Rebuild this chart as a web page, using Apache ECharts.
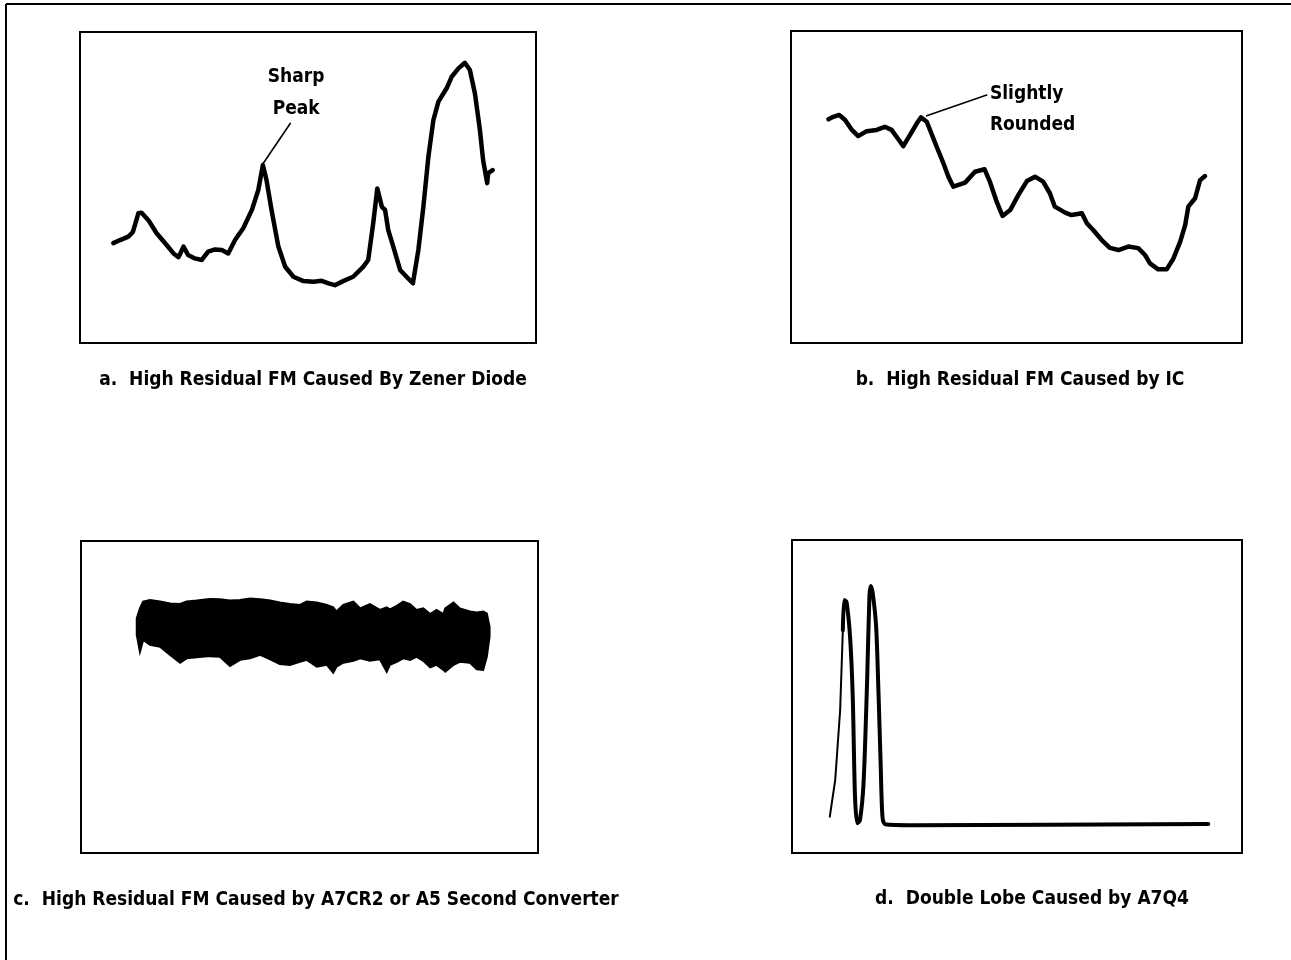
<!DOCTYPE html>
<html><head><meta charset="utf-8">
<script src="https://cdn.jsdelivr.net/npm/echarts@6/dist/echarts.min.js"></script>
<style>html,body{margin:0;padding:0;background:#fff}#chart{width:1291px;height:960px}</style>
</head><body><div id="chart"></div>
<script>
// Panel a: trace (x: 0-100 across screen, y: 0-100 up the screen)
const aX = [7.3,8.8,10.6,11.6,12.8,13.5,15.0,16.8,19.0,20.5,21.6,22.7,23.7,25.2,26.7,28.1,29.6,31.1,32.5,34.0,35.8,37.7,39.1,40.1,40.9,42.0,43.5,45.0,46.8,49.0,51.2,53.0,54.5,55.9,57.7,59.9,62.1,63.2,64.3,65.2,66.2,66.9,67.6,68.7,70.2,71.6,73.0,74.2,75.3,76.4,77.5,78.6,80.4,81.5,83.0,84.4,85.5,86.6,87.7,88.4,89.3,89.5,90.5];
const aY = [32.1,33.1,34.2,35.7,41.7,41.9,39.5,35.3,31.5,28.8,27.6,31.0,28.3,27.2,26.7,29.4,30.1,29.9,28.8,33.1,36.9,42.8,49.2,57.2,52.4,42.8,31.0,24.5,21.3,19.9,19.7,20.0,19.2,18.6,19.9,21.3,24.5,26.7,38.5,49.7,43.8,42.8,36.3,31.0,23.5,21.3,19.2,29.9,43.8,59.9,71.7,77.6,81.9,85.6,88.3,90.1,87.8,80.3,68.5,58.8,51.4,54.6,55.6];
const aNoteLineX = [40.2, 46.1];
const aNoteLineY = [57.8, 70.6];
const aNoteText = 'Sharp\nPeak';
const aNotePos = [47.4, 80.4];

// Panel b
const bX = [8.3,9.4,10.7,12.0,13.5,14.9,16.8,19.0,20.8,22.3,23.8,24.9,26.4,27.9,28.8,30.1,32.3,33.8,34.9,36.0,38.6,40.8,42.9,44.1,45.6,46.9,48.6,50.4,52.3,54.1,55.9,57.4,58.5,60.8,62.2,64.5,65.6,67.0,68.9,70.7,72.6,74.8,77.0,78.5,79.6,81.4,83.3,84.8,86.3,87.4,88.1,89.6,90.7,91.8];
const bY = [71.7,72.5,73.1,71.5,68.3,66.3,67.9,68.3,69.3,68.3,65.3,63.1,66.7,70.4,72.3,70.9,62.9,57.6,53.3,50.1,51.4,54.9,55.7,51.7,45.3,40.7,42.6,47.4,51.9,53.3,51.7,48.0,43.7,41.8,41.0,41.6,38.4,36.2,33.0,30.5,29.8,30.9,30.4,28.2,25.5,23.6,23.6,27.1,32.5,37.8,43.7,46.4,52.2,53.5];
const bNoteLineX = [30.1, 43.4];
const bNoteLineY = [72.8, 79.5];
const bNoteText = 'Slightly\nRounded';
const bNotePos = [44.1, 74.7];

// Panel c: noise band envelope
const cX = [12.2,12.9,13.6,15.1,17.3,19.5,21.7,23.1,25.3,28.2,30.4,32.6,34.8,37.0,39.2,41.4,43.5,45.7,47.9,49.4,51.6,53.8,55.2,55.9,57.4,59.6,61.1,63.2,65.4,66.9,67.6,69.1,70.5,72.0,73.4,74.9,76.4,77.8,79.3,79.7,81.5,82.9,85.1,86.6,88.0,88.8,89.4];
const cTop = [75.2,78.4,80.6,81.1,80.6,80.0,79.8,80.6,80.9,81.4,81.3,80.9,81.1,81.6,81.3,80.9,80.3,79.8,79.5,80.6,80.3,79.5,78.7,77.4,79.5,80.6,78.4,79.8,77.9,78.7,78.1,79.2,80.6,79.8,77.9,78.4,76.6,77.9,76.6,78.4,80.3,78.4,77.4,77.1,77.4,76.8,72.5];
const cBottom = [69.9,64.5,68.3,66.7,66.1,63.5,61.0,62.4,62.7,63.1,62.9,59.9,61.9,62.4,63.5,62.1,60.6,60.3,61.3,61.9,59.7,60.3,57.8,59.7,61.0,61.6,62.4,61.6,62.1,58.1,60.3,61.3,62.4,61.9,62.9,61.6,59.5,60.3,58.7,58.1,60.3,61.3,61.0,58.9,58.7,62.9,69.3];

// Panel d
const dX = [8.4,9.6,10.7,11.3,11.6,12.1,12.9,13.5,14.0,14.5,15.1,15.9,16.7,17.2,17.5,17.9,18.7,19.2,19.7,20.1,20.7,27.0,92.5];
const dY = [11.6,23.3,45.7,71.2,80.8,80.3,69.1,49.9,18.0,9.5,10.5,22.3,55.3,81.9,85.3,83.5,72.3,52.1,28.6,11.6,9.2,8.9,9.3];

const captions = [
  'a.  High Residual FM Caused By Zener Diode',
  'b.  High Residual FM Caused by IC',
  'c.  High Residual FM Caused by A7CR2 or A5 Second Converter',
  'd.  Double Lobe Caused by A7Q4'
];

const FONT = '"DejaVu Sans Condensed", "Liberation Sans Narrow", "DejaVu Sans", sans-serif';
const zip = (xs, ys) => xs.map((x, i) => [x, ys[i]]);

const grids = [
  {left: 80, top: 32, width: 456, height: 311},
  {left: 791, top: 31, width: 451, height: 312},
  {left: 81, top: 541, width: 457, height: 312},
  {left: 792, top: 540, width: 450, height: 313}
].map(g => Object.assign({show: true, borderColor: '#000', borderWidth: 2, backgroundColor: 'transparent'}, g));

const axis = i => ({type: 'value', gridIndex: i, min: 0, max: 100, show: false});
const traceStyle = w => ({color: '#000', width: w, join: 'round', cap: 'round'});
const noteLabel = {show: true, color: '#000', fontSize: 19, fontWeight: 'bold', fontFamily: FONT, opacity: 1};

// band as one polygon: upper envelope left->right, lower envelope right->left
const bandData = cX.map((x, i) => [x, cTop[i], cBottom[i]]);
function renderBand(params, api) {
  if (params.dataIndex !== 0) return null;
  const pts = [];
  for (let i = 0; i < bandData.length; i++) pts.push(api.coord([bandData[i][0], bandData[i][1]]));
  for (let i = bandData.length - 1; i >= 0; i--) pts.push(api.coord([bandData[i][0], bandData[i][2]]));
  return {type: 'polygon', shape: {points: pts}, style: {fill: '#000', stroke: '#000', lineWidth: 2, lineJoin: 'miter'}};
}

const option = {
  animation: false,
  backgroundColor: '#fff',
  grid: grids,
  xAxis: [0,1,2,3].map(axis),
  yAxis: [0,1,2,3].map(axis),
  title: [
    {left: 313, top: 371, text: captions[0]},
    {left: 1020, top: 371, text: captions[1]},
    {left: 316, top: 891, text: captions[2]},
    {left: 1032, top: 890, text: captions[3]}
  ].map(t => Object.assign({textAlign: 'center', padding: 0, textStyle: {color: '#000', fontSize: 19, fontWeight: 'bold', fontFamily: FONT}}, t)),
  graphic: [
    {type: 'line', shape: {x1: 6, y1: 4, x2: 1291, y2: 4}, style: {stroke: '#000', lineWidth: 2}},
    {type: 'line', shape: {x1: 6, y1: 4, x2: 6, y2: 960}, style: {stroke: '#000', lineWidth: 2}}
  ],
  series: [
    {type: 'line', xAxisIndex: 0, yAxisIndex: 0, data: zip(aX, aY), symbol: 'none', lineStyle: traceStyle(4.5)},
    {type: 'line', xAxisIndex: 0, yAxisIndex: 0, data: zip(aNoteLineX, aNoteLineY), symbol: 'none', lineStyle: traceStyle(1.6)},
    {type: 'scatter', xAxisIndex: 0, yAxisIndex: 0, data: [aNotePos], symbolSize: 0, itemStyle: {opacity: 1},
      label: Object.assign({}, noteLabel, {position: 'inside', formatter: aNoteText, lineHeight: 32, align: 'center'})},

    {type: 'line', xAxisIndex: 1, yAxisIndex: 1, data: zip(bX, bY), symbol: 'none', lineStyle: traceStyle(4.5)},
    {type: 'line', xAxisIndex: 1, yAxisIndex: 1, data: zip(bNoteLineX, bNoteLineY), symbol: 'none', lineStyle: traceStyle(1.6)},
    {type: 'scatter', xAxisIndex: 1, yAxisIndex: 1, data: [bNotePos], symbolSize: 0, itemStyle: {opacity: 1},
      label: Object.assign({}, noteLabel, {position: 'right', distance: 0, formatter: bNoteText, lineHeight: 31, align: 'left'})},

    {type: 'custom', xAxisIndex: 2, yAxisIndex: 2, data: bandData, renderItem: renderBand, clip: false,
      encode: {x: 0, y: [1, 2]}},

    {type: 'line', xAxisIndex: 3, yAxisIndex: 3, data: zip(dX.slice(0, 4), dY.slice(0, 4)), symbol: 'none', lineStyle: traceStyle(2)},
    {type: 'line', xAxisIndex: 3, yAxisIndex: 3, data: zip(dX.slice(3), dY.slice(3)), symbol: 'none', smooth: 0.25, lineStyle: traceStyle(4)}
  ]
};

const chart = echarts.init(document.getElementById('chart'), null, {renderer: 'canvas'});
chart.setOption(option);
</script></body></html>
